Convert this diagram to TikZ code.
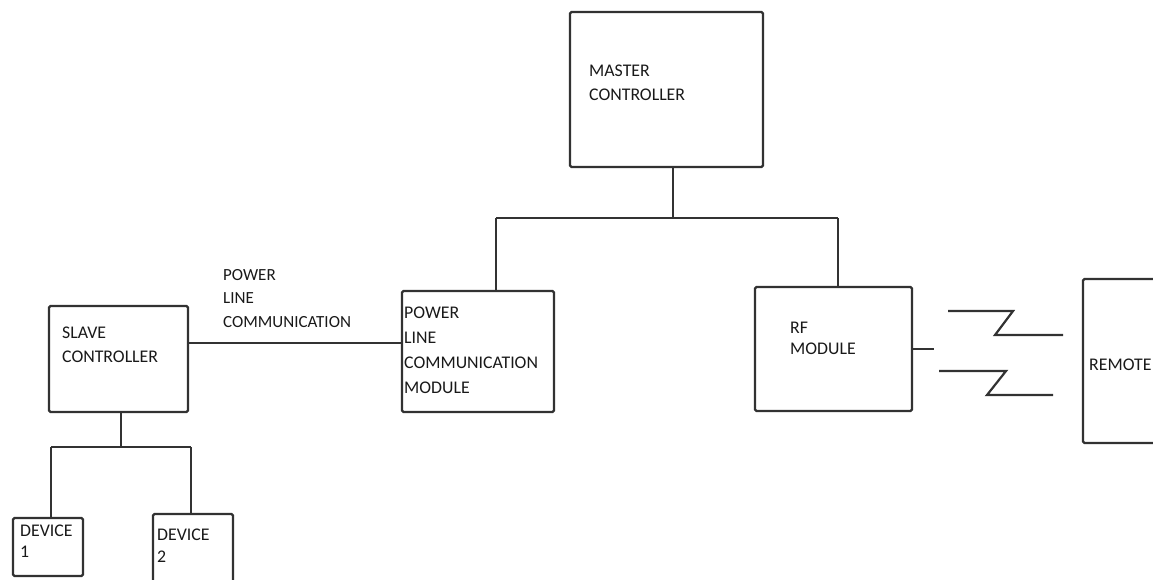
\documentclass[tikz,border=0pt]{standalone}
\usepackage{fontspec}
\setmainfont{Carlito}
\usepackage{xcolor}
\usepackage{tikz}
\definecolor{linegray}{RGB}{50,50,50}
\tikzstyle{box}=[draw=linegray,line width=2.2pt,rounded corners=1.5pt,inner sep=0pt]
\tikzstyle{txt}=[anchor=north west,inner sep=0pt,align=left,text=black!90,font=\fontsize{17.8}{24}\selectfont]
\tikzstyle{wire}=[draw=linegray,line width=2.2pt]

\begin{document}
\begin{tikzpicture}[x=1pt,y=-1pt]
\useasboundingbox (0,0) rectangle (1153,579);

% Boxes
\node[box,minimum width=193pt,minimum height=155pt] (master) at (666.5,89.5)  {};
\node[box,minimum width=152pt,minimum height=121pt] (plc)    at (478,351.5)   {};
\node[box,minimum width=157pt,minimum height=124pt] (rf)     at (833.5,349)   {};
\node[box,minimum width=82pt, minimum height=164pt] (remote) at (1124,361)    {};
\node[box,minimum width=139pt,minimum height=106pt] (slave)  at (118.5,359)   {};
\node[box,minimum width=70pt, minimum height=58pt]  (dev1)   at (48,547)      {};
\node[box,minimum width=80pt, minimum height=76pt]  (dev2)   at (193,552)     {};

% Texts
\node[txt] (master text) at (589,65)  {MASTER\\CONTROLLER};
\node[txt] (plc text)    at (404,307) {POWER\\[1pt]LINE\\[1pt]COMMUNICATION\\[1pt]MODULE};
\node[txt,font=\fontsize{17.8}{21}\selectfont] (rf text) at (790,322) {RF\\MODULE};
\node[txt] (remote text) at (1089,359) {REMOTE};
\node[txt] (slave text)  at (62,327)  {SLAVE\\CONTROLLER};
\node[txt,font=\fontsize{17}{23.5}\selectfont] (link text) at (223,269) {POWER\\LINE\\COMMUNICATION};
\node[txt,font=\fontsize{17.8}{21}\selectfont] (dev1 text) at (20,525)  {DEVICE\\1};
\node[txt,font=\fontsize{17.8}{22}\selectfont] (dev2 text) at (157,529) {DEVICE\\2};

% Bus points
\coordinate (master tap) at (673,218);
\coordinate (bus left)   at (496,218);
\coordinate (bus right)  at (838,218);
\coordinate (slave tap)  at (121,447);
\coordinate (sbus left)  at (51,447);
\coordinate (sbus right) at (191,447);
\coordinate (rf stub)    at (934,349);

% Edges
\draw[wire] (master tap |- master.south) -- (master tap)
            (bus left) -- (bus right)
            (bus left) -- (bus left |- plc.north)
            (bus right) -- (bus right |- rf.north)
            ([yshift=16pt]slave.east) -- ([yshift=8.5pt]plc.west)
            (rf.east) -- (rf stub)
            (slave tap |- slave.south) -- (slave tap)
            (sbus left) -- (sbus right)
            (sbus left) -- (sbus left |- dev1.north)
            (sbus right) -- (sbus right |- dev2.north);

% Radio link
\draw[wire] (948,311) -- (1013,311) -- (995,335) -- (1063,335);
\draw[wire] (939,371) -- (1006,371) -- (987,395) -- (1053,395);

\end{tikzpicture}
\end{document}
